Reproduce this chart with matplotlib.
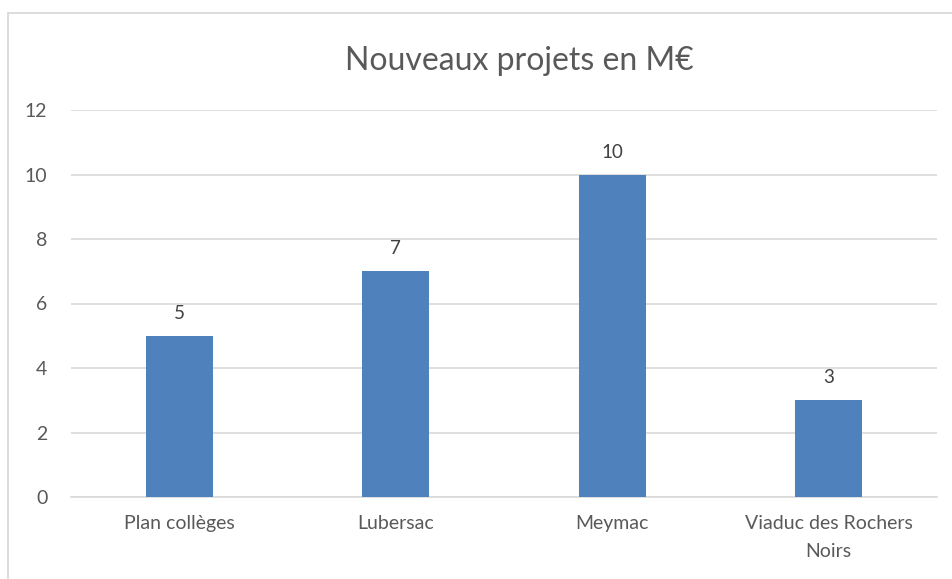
import matplotlib.pyplot as plt
from matplotlib.patches import Rectangle

categories = ["Plan collèges", "Lubersac", "Meymac", "Viaduc des Rochers\nNoirs"]
values = [5, 7, 10, 3]
yticks = [0, 2, 4, 6, 8, 10, 12]

plt.rcParams['font.family'] = ['Lato', 'DejaVu Sans']
grey = '#595959'
bar_color = '#4F81BD'

fig = plt.figure(figsize=(9.53, 5.79), dpi=100)
W, H = 953, 579

# cadre du graphique (coupé à droite et en bas comme dans la capture)
fig.patches.append(Rectangle((8 / W, -0.05), 1.0, 1 - 13 / H + 0.05,
                             transform=fig.transFigure, fill=False,
                             edgecolor='#D9D9D9', linewidth=1.3))

ax = fig.add_axes([71 / W, 1 - 497 / H, (937 - 71) / W, (497 - 110) / H])
x = range(len(categories))
ax.bar(x, values, width=0.31, color=bar_color, zorder=3)
for xi, v in zip(x, values):
    ax.annotate(str(v), (xi, v), xytext=(0, 10), textcoords='offset points',
                ha='center', va='bottom', fontsize=13.5, color='#404040')

ax.set_xlim(-0.5, len(categories) - 0.5)
ax.set_ylim(0, 12)
ax.set_yticks(yticks)
ax.set_xticks(list(x))
ax.set_xticklabels(categories, fontsize=14, color=grey, linespacing=1.75)
ax.tick_params(axis='y', labelsize=14, labelcolor=grey, length=0, pad=17)
ax.tick_params(axis='x', length=0, pad=13)
ax.grid(axis='y', color='#D9D9D9', linewidth=1.2, zorder=0)
for s in ['top', 'right', 'left']:
    ax.spines[s].set_visible(False)
ax.spines['bottom'].set_color('#D9D9D9')
ax.spines['bottom'].set_linewidth(1.2)

fig.text(0.545, 1 - 61 / H, "Nouveaux projets en M€", ha='center', va='center',
         fontsize=23, color=grey)

fig.savefig('out.png', dpi=100)
